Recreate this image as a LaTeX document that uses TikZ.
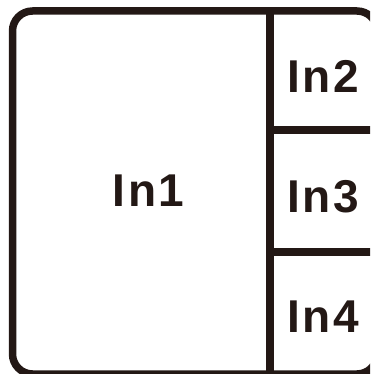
\documentclass[tikz,border=0pt]{standalone}
\usepackage{fontspec}
\setmainfont{Liberation Sans}
\definecolor{ink}{HTML}{231815}

\begin{document}
\begin{tikzpicture}[x=1pt, y=-1pt, line width=7.5pt]
                \tikzset{label/.style={inner sep=0pt, text=ink, font=\fontsize{46}{50}\selectfont\bfseries\addfontfeatures{LetterSpace=6}}};
                \useasboundingbox (0, 0) rectangle (370, 374);
                \clip (0, 0) rectangle (370, 374);
                \draw[ink, rounded corners=20pt] (12.5, 11) rectangle (377, 374);
                \coordinate (vtop) at (270, 11);
                \coordinate (vbot) at (270, 374);
                \coordinate (h1l) at (270, 130);
                \coordinate (h1r) at (377, 130);
                \coordinate (h2l) at (270, 252);
                \coordinate (h2r) at (377, 252);
                \draw[ink] (vtop) -- (vbot);
                \draw[ink] (h1l) -- (h1r);
                \draw[ink] (h2l) -- (h2r);
                \node[label] (in1) at (148.5, 191) {In1};
                \node[label] (in2) at (323, 76.5) {In2};
                \node[label] (in3) at (323, 196.5) {In3};
                \node[label] (in4) at (323, 316.5) {In4};
            \end{tikzpicture}
\end{document}
